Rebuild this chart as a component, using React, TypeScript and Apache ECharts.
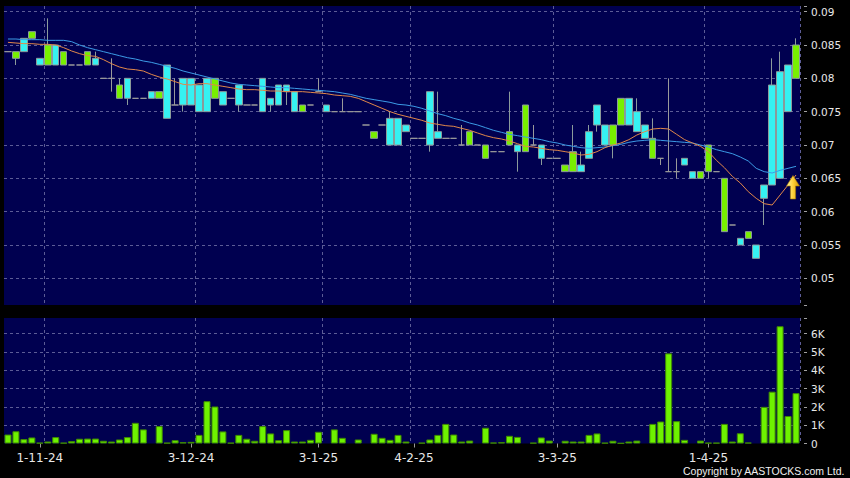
import React, { useEffect, useRef } from "react";
import * as echarts from "echarts";

// x-axis tick labels (category index -> date text)
const tickIndex = [4, 23, 39, 51, 69, 88];
const tickLabels = ["1-11-24", "3-12-24", "3-1-25", "4-2-25", "3-3-25", "1-4-25"];
const gridLineIndex = [5, 24, 40, 51, 69, 88];

// daily prices
const openP = [
  0.084, 0.084, 0.084, 0.087, 0.082, 0.085, 0.082, 0.084, 0.082, 0.082,
  0.084, 0.082, 0.080, 0.080, 0.079, 0.077, 0.077, 0.077, 0.077, 0.078,
  0.074, 0.076, 0.076, 0.076, 0.075, 0.075, 0.080, 0.076, 0.077, 0.076,
  0.076, 0.076, 0.075, 0.076, 0.076, 0.078, 0.075, 0.076, 0.076, 0.078,
  0.075, 0.075, 0.075, 0.075, 0.075, 0.073, 0.072, 0.073, 0.070, 0.070,
  0.072, 0.071, 0.071, 0.070, 0.071, 0.071, 0.071, 0.070, 0.072, 0.070,
  0.070, 0.069, 0.069, 0.072, 0.069, 0.076, 0.070, 0.068, 0.068, 0.068,
  0.067, 0.069, 0.066, 0.068, 0.073, 0.070, 0.073, 0.077, 0.073, 0.072,
  0.071, 0.071, 0.068, 0.066, 0.066, 0.067, 0.065, 0.066, 0.070, 0.066,
  0.065, 0.058, 0.055, 0.057, 0.053, 0.062, 0.064, 0.065, 0.075, 0.085,
];
const closeP = [
  0.084, 0.083, 0.086, 0.086, 0.083, 0.082, 0.085, 0.082, 0.082, 0.082,
  0.082, 0.083, 0.080, 0.080, 0.077, 0.080, 0.077, 0.077, 0.078, 0.077,
  0.082, 0.076, 0.080, 0.080, 0.079, 0.080, 0.077, 0.078, 0.077, 0.079,
  0.076, 0.076, 0.080, 0.077, 0.079, 0.079, 0.078, 0.075, 0.076, 0.078,
  0.076, 0.075, 0.075, 0.075, 0.075, 0.073, 0.071, 0.073, 0.074, 0.074,
  0.073, 0.071, 0.071, 0.078, 0.072, 0.071, 0.071, 0.070, 0.070, 0.070,
  0.068, 0.069, 0.069, 0.070, 0.070, 0.069, 0.070, 0.070, 0.068, 0.068,
  0.066, 0.066, 0.067, 0.072, 0.076, 0.073, 0.070, 0.073, 0.077, 0.075,
  0.073, 0.068, 0.068, 0.066, 0.066, 0.068, 0.066, 0.065, 0.066, 0.066,
  0.057, 0.058, 0.056, 0.056, 0.055, 0.064, 0.079, 0.081, 0.082, 0.080,
];
const lowP = [
  0.084, 0.082, 0.084, 0.086, 0.082, 0.082, 0.082, 0.082, 0.082, 0.082,
  0.082, 0.082, 0.080, 0.078, 0.077, 0.076, 0.077, 0.077, 0.077, 0.077,
  0.074, 0.076, 0.075, 0.076, 0.075, 0.075, 0.077, 0.076, 0.077, 0.075,
  0.076, 0.076, 0.075, 0.075, 0.076, 0.076, 0.075, 0.075, 0.076, 0.078,
  0.075, 0.075, 0.075, 0.075, 0.075, 0.073, 0.071, 0.073, 0.070, 0.070,
  0.072, 0.071, 0.071, 0.069, 0.071, 0.071, 0.071, 0.070, 0.070, 0.070,
  0.068, 0.069, 0.069, 0.070, 0.066, 0.069, 0.070, 0.067, 0.068, 0.068,
  0.066, 0.066, 0.066, 0.068, 0.072, 0.070, 0.068, 0.073, 0.073, 0.072,
  0.071, 0.068, 0.067, 0.066, 0.065, 0.067, 0.065, 0.065, 0.065, 0.066,
  0.057, 0.058, 0.055, 0.056, 0.053, 0.058, 0.064, 0.065, 0.075, 0.080,
];
const highP = [
  0.084, 0.084, 0.086, 0.087, 0.083, 0.089, 0.085, 0.084, 0.082, 0.082,
  0.084, 0.084, 0.080, 0.083, 0.080, 0.080, 0.077, 0.077, 0.078, 0.078,
  0.082, 0.080, 0.080, 0.080, 0.079, 0.080, 0.080, 0.078, 0.077, 0.079,
  0.076, 0.076, 0.080, 0.077, 0.079, 0.079, 0.078, 0.076, 0.076, 0.080,
  0.076, 0.075, 0.077, 0.075, 0.075, 0.073, 0.072, 0.073, 0.075, 0.074,
  0.073, 0.071, 0.071, 0.078, 0.078, 0.071, 0.071, 0.073, 0.072, 0.070,
  0.070, 0.069, 0.069, 0.078, 0.070, 0.076, 0.073, 0.070, 0.068, 0.068,
  0.067, 0.073, 0.069, 0.073, 0.076, 0.073, 0.073, 0.077, 0.077, 0.077,
  0.073, 0.074, 0.068, 0.080, 0.068, 0.068, 0.066, 0.066, 0.070, 0.066,
  0.065, 0.058, 0.056, 0.057, 0.055, 0.064, 0.083, 0.084, 0.082, 0.086,
];

// moving averages
const maFast = [
  0.0854, 0.0853, 0.0852, 0.0852, 0.0851, 0.0851, 0.0850, 0.0846, 0.0841, 0.0837,
  0.0834, 0.0833, 0.0828, 0.0822, 0.0817, 0.0814, 0.0813, 0.0811, 0.0806, 0.0802,
  0.0799, 0.0795, 0.0791, 0.0790, 0.0792, 0.0792, 0.0790, 0.0788, 0.0786, 0.0784,
  0.0783, 0.0783, 0.0782, 0.0781, 0.0781, 0.0780, 0.0780, 0.0780, 0.0779, 0.0778,
  0.0777, 0.0775, 0.0774, 0.0773, 0.0770, 0.0765, 0.0760, 0.0755, 0.0750, 0.0746,
  0.0743, 0.0740, 0.0737, 0.0733, 0.0731, 0.0729, 0.0728, 0.0725, 0.0722, 0.0718,
  0.0714, 0.0711, 0.0709, 0.0706, 0.0702, 0.0698, 0.0697, 0.0695, 0.0693, 0.0692,
  0.0690, 0.0688, 0.0685, 0.0686, 0.0690, 0.0696, 0.0700, 0.0703, 0.0708, 0.0715,
  0.0720, 0.0724, 0.0725, 0.0724, 0.0716, 0.0708, 0.0703, 0.0698, 0.0690, 0.0677,
  0.0666, 0.0653, 0.0643, 0.0630, 0.0620, 0.0612, 0.0610, 0.0625, 0.0640, 0.0655,
];
const maSlow = [
  0.0859, 0.0859, 0.0858, 0.0858, 0.0858, 0.0857, 0.0857, 0.0857, 0.0855, 0.0850,
  0.0846, 0.0843, 0.0840, 0.0837, 0.0834, 0.0831, 0.0829, 0.0826, 0.0824, 0.0821,
  0.0818, 0.0815, 0.0811, 0.0808, 0.0805, 0.0802, 0.0799, 0.0796, 0.0793, 0.0791,
  0.0790, 0.0789, 0.0788, 0.0787, 0.0786, 0.0786, 0.0785, 0.0784, 0.0783, 0.0782,
  0.0781, 0.0780, 0.0778, 0.0776, 0.0773, 0.0770, 0.0768, 0.0766, 0.0764, 0.0761,
  0.0760, 0.0758, 0.0755, 0.0751, 0.0747, 0.0744, 0.0740, 0.0737, 0.0733, 0.0730,
  0.0726, 0.0722, 0.0719, 0.0716, 0.0714, 0.0712, 0.0710, 0.0708, 0.0705, 0.0703,
  0.0700, 0.0698, 0.0696, 0.0695, 0.0696, 0.0697, 0.0699, 0.0701, 0.0704, 0.0706,
  0.0707, 0.0708, 0.0707, 0.0706, 0.0705, 0.0704, 0.0703, 0.0700, 0.0697, 0.0693,
  0.0690, 0.0687, 0.0682, 0.0676, 0.0665, 0.0660, 0.0658, 0.0662, 0.0665, 0.0668,
];

// daily volume in thousands
const volumeK = [
  0.49, 0.67, 0.24, 0.33, 0.04, 0.11, 0.35, 0.04, 0.13, 0.26,
  0.27, 0.27, 0.15, 0.11, 0.22, 0.35, 1.13, 0.77, 0, 0.95,
  0.04, 0.18, 0.07, 0.09, 0.47, 2.31, 2.02, 0.66, 0.04, 0.47,
  0.26, 0.15, 0.95, 0.55, 0.18, 0.73, 0.11, 0.11, 0.2, 0.64,
  0, 0.77, 0.31, 0, 0.22, 0, 0.53, 0.31, 0.2, 0.47,
  0.11, 0, 0.04, 0.22, 0.47, 1.07, 0.49, 0.11, 0.16, 0,
  0.86, 0.05, 0.07, 0.42, 0.36, 0, 0.04, 0.33, 0.16, 0,
  0.15, 0.11, 0.11, 0.47, 0.55, 0.04, 0.15, 0.02, 0.11, 0.16,
  0, 1.07, 1.2, 4.92, 1.22, 0.2, 0, 0.16, 0.04, 0.04,
  1.07, 0.11, 0.56, 0.05, 0, 2.0, 2.83, 6.4, 1.5, 2.75,
];

const PLOT_BG = "#000050";
const GRID_LINE = "#5c5c96";
const LABEL = "#e8e8e8";

export default function App() {
  const ref = useRef<HTMLDivElement>(null);

  useEffect(() => {
    document.body.style.margin = "0";
    document.body.style.background = "#000";
    if (!ref.current) return;
    const chart = echarts.init(ref.current, null, { renderer: "svg" });
    const categories = openP.map((_, i) => String(i));
    const labelOf = (i: number) => {
      const p = tickIndex.indexOf(i);
      return p >= 0 ? tickLabels[p] : "";
    };
    const isMult = (v: number, step: number) =>
      Math.abs(v / step - Math.round(v / step)) < 1e-6;

    const xBase = (gridIndex: number, showLabels: boolean) => ({
      type: "category",
      gridIndex,
      data: categories,
      boundaryGap: true,
      axisLine: { show: false },
      axisTick: {
        show: showLabels,
        alignWithLabel: true,
        length: 4,
        interval: (i: number) => tickIndex.includes(i),
        lineStyle: { color: "#9a9a9a" },
      },
      axisLabel: {
        show: showLabels,
        interval: (i: number) => tickIndex.includes(i),
        formatter: (_v: string, i: number) => labelOf(i),
        color: LABEL,
        fontSize: 12,
        fontFamily: "DejaVu Sans",
        margin: 8,
      },
      splitLine: {
        show: true,
        interval: (i: number) => gridLineIndex.includes(i),
        lineStyle: { color: GRID_LINE, type: [3, 3], width: 1 },
      },
    });

    chart.setOption({
      animation: false,
      backgroundColor: "#000",
      grid: [
        { left: 4, right: 50, top: 6, height: 299, show: true, backgroundColor: PLOT_BG, borderWidth: 0 },
        { left: 4, right: 50, top: 318, height: 125.5, show: true, backgroundColor: PLOT_BG, borderWidth: 0 },
      ],
      xAxis: [xBase(0, false), xBase(1, true)],
      yAxis: [
        {
          type: "value",
          gridIndex: 0,
          position: "right",
          min: 0.046,
          max: 0.09085,
          splitNumber: 9,
          offset: 4,
          axisLine: { show: false },
          axisTick: { show: true, length: 3, lineStyle: { color: "#a0a0a0" } },
          axisLabel: {
            color: LABEL,
            fontSize: 10.5,
            fontFamily: "DejaVu Sans",
            margin: 7,
            formatter: (v: number) => (isMult(v, 0.005) ? String(parseFloat(v.toFixed(3))) : ""),
          },
          splitLine: {
            show: true,
            lineStyle: {
              color: [
                "rgba(0,0,0,0)", GRID_LINE, GRID_LINE, GRID_LINE, GRID_LINE, GRID_LINE,
                GRID_LINE, GRID_LINE, GRID_LINE, GRID_LINE, "rgba(0,0,0,0)",
              ],
              type: [3, 3],
              width: 1,
            },
          },
        },
        {
          type: "value",
          gridIndex: 1,
          position: "right",
          min: 0,
          max: 6.85,
          interval: 1,
          offset: 4,
          axisLine: { show: false },
          axisTick: { show: true, length: 3, lineStyle: { color: "#a0a0a0" } },
          axisLabel: {
            color: LABEL,
            fontSize: 10.5,
            fontFamily: "DejaVu Sans",
            margin: 7,
            formatter: (v: number) =>
              isMult(v, 1) ? (Math.round(v) === 0 ? "0" : Math.round(v) + "K") : "",
          },
          splitLine: {
            show: true,
            lineStyle: {
              color: ["rgba(0,0,0,0)", GRID_LINE, GRID_LINE, GRID_LINE, GRID_LINE, GRID_LINE, GRID_LINE, "rgba(0,0,0,0)"],
              type: [3, 3],
              width: 1,
            },
          },
        },
      ],
      series: [
        {
          type: "candlestick",
          xAxisIndex: 0,
          yAxisIndex: 0,
          barWidth: 7,
          data: openP.map((o, i) => [o, closeP[i], lowP[i], highP[i]]),
          itemStyle: {
            color: "#36f2f2",
            color0: "#78f000",
            borderColor: "#8b9b9b",
            borderColor0: "#8b9b9b",
            borderColorDoji: "#9a9a9a",
            borderWidth: 1,
          },
          z: 3,
        },
        {
          type: "line",
          xAxisIndex: 0,
          yAxisIndex: 0,
          data: maSlow,
          showSymbol: false,
          lineStyle: { color: "#3c9be6", width: 1 },
          z: 4,
        },
        {
          type: "line",
          xAxisIndex: 0,
          yAxisIndex: 0,
          data: maFast,
          showSymbol: false,
          lineStyle: { color: "#e0874a", width: 1 },
          z: 5,
        },
        {
          type: "bar",
          xAxisIndex: 1,
          yAxisIndex: 1,
          barWidth: 7,
          data: volumeK.map((v) => (v > 0 ? v : null)),
          itemStyle: { color: "#6ef200", borderColor: "#3f8a00", borderWidth: 1 },
        },
      ],
      graphic: [
        {
          type: "polygon",
          z: 20,
          shape: {
            points: [
              [793, 175.5],
              [799.5, 186],
              [795.6, 186],
              [795.6, 199],
              [790.4, 199],
              [790.4, 186],
              [786.5, 186],
            ],
          },
          style: {
            fill: new echarts.graphic.LinearGradient(0, 0, 1, 0, [
              { offset: 0, color: "#fff3a0" },
              { offset: 0.5, color: "#ffd23a" },
              { offset: 1, color: "#d99a00" },
            ]),
            stroke: "#a87800",
            lineWidth: 0.6,
          },
        },
        {
          type: "text",
          right: 5,
          top: 465,
          style: {
            text: "Copyright by AASTOCKS.com Ltd.",
            fill: "#f0f0f0",
            fontSize: 10.5,
            fontFamily: "Liberation Sans",
          },
        },
      ],
    });
    return () => chart.dispose();
  }, []);

  return (
    <div
      ref={ref}
      style={{ position: "fixed", left: 0, top: 0, width: 850, height: 478, background: "#000" }}
    />
  );
}
